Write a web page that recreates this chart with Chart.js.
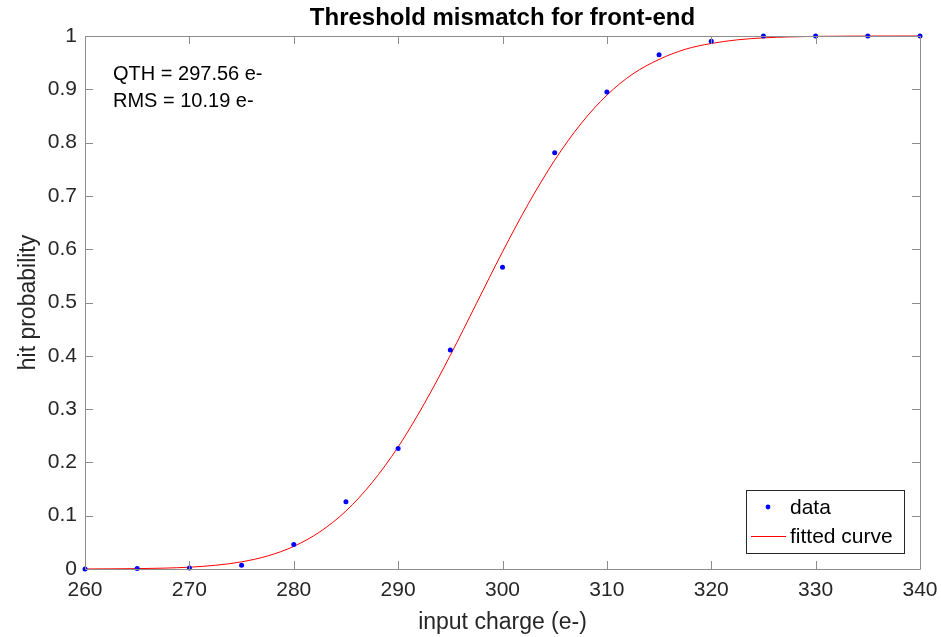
<!DOCTYPE html>
<html lang="en">
<head>
  <meta charset="UTF-8">
  <title>Threshold mismatch for front-end</title>
  <script src="https://cdn.jsdelivr.net/npm/chart.js"></script>
  <style>
    html, body { margin: 0; padding: 0; background: #fff; }
    #wrap { width: 941px; height: 637px; }
  </style>
</head>
<body>
  <div id="wrap"><canvas id="fitChart" width="941" height="637"></canvas></div>

  <script>
    // measured hit probability
    const charges = [260, 265, 270, 275, 280, 285, 290, 295, 300, 305, 310, 315, 320, 325, 330, 335, 340];
    const hitProb = [0, 0.001, 0.002, 0.007, 0.046, 0.126, 0.226, 0.411, 0.566, 0.781, 0.895, 0.965, 0.99, 1, 1, 1, 1];

    // fitted curve
    const fitX = [260, 262.5, 265, 267.5, 270, 272.5, 275, 277.5, 280, 282.5, 285, 287.5, 290, 292.5, 295, 297.5,
                  300, 302.5, 305, 307.5, 310, 312.5, 315, 317.5, 320, 322.5, 325, 327.5, 330, 332.5, 335, 337.5, 340];
    const fitY = [0.0001, 0.0003, 0.0007, 0.0016, 0.0034, 0.007, 0.0134, 0.0245, 0.0424, 0.0697, 0.1088, 0.162,
                  0.229, 0.31, 0.401, 0.498, 0.595, 0.686, 0.767, 0.835, 0.889, 0.929, 0.956, 0.975, 0.986, 0.9928,
                  0.9965, 0.9983, 0.9993, 0.9997, 0.9999, 1, 1];

    const xTicks = [260, 270, 280, 290, 300, 310, 320, 330, 340];
    const yTicks = [0, 0.1, 0.2, 0.3, 0.4, 0.5, 0.6, 0.7, 0.8, 0.9, 1];

    const titleText = "Threshold mismatch for front-end";
    const xTitle = "input charge (e-)";
    const yTitle = "hit probability";
    const notes = ["QTH = 297.56 e-", "RMS = 10.19 e-"];

    const textColor = "#262626";
    const axisColor = "#8c8c8c";
    const fontFam = "'Liberation Sans', Arial, sans-serif";

    // box, inward ticks, titles, note and legend drawn like matlab does
    const matlabLook = {
      id: "matlabLook",
      afterDraw(chart) {
        const ctx = chart.ctx;
        const a = chart.chartArea;
        const xs = chart.scales.x, ys = chart.scales.y;
        ctx.save();
        ctx.strokeStyle = axisColor;
        ctx.lineWidth = 1;
        ctx.beginPath();
        ctx.rect(Math.round(a.left) + 0.5, Math.round(a.top) + 0.5, Math.round(a.right - a.left), Math.round(a.bottom - a.top));
        const tl = 8;
        xTicks.forEach(v => {
          const px = Math.round(xs.getPixelForValue(v)) + 0.5;
          ctx.moveTo(px, a.bottom); ctx.lineTo(px, a.bottom - tl);
          ctx.moveTo(px, a.top); ctx.lineTo(px, a.top + tl);
        });
        yTicks.forEach(v => {
          const py = Math.round(ys.getPixelForValue(v)) + 0.5;
          ctx.moveTo(a.left, py); ctx.lineTo(a.left + tl, py);
          ctx.moveTo(a.right, py); ctx.lineTo(a.right - tl, py);
        });
        ctx.stroke();

        ctx.fillStyle = "#000";
        ctx.font = "bold 24px " + fontFam;
        ctx.textAlign = "center";
        ctx.textBaseline = "middle";
        ctx.fillText(titleText, (a.left + a.right) / 2, 18);

        ctx.fillStyle = textColor;
        ctx.font = "23px " + fontFam;
        ctx.fillText(xTitle, (a.left + a.right) / 2, 623);
        ctx.save();
        ctx.translate(29, (a.top + a.bottom) / 2);
        ctx.rotate(-Math.PI / 2);
        ctx.fillText(yTitle, 0, 0);
        ctx.restore();

        ctx.fillStyle = "#000";
        ctx.font = "20px " + fontFam;
        ctx.textAlign = "left";
        ctx.fillText(notes[0], 113, 74);
        ctx.fillText(notes[1], 113, 101);

        // legend
        ctx.fillStyle = "#fff";
        ctx.fillRect(746, 490, 158, 63);
        ctx.strokeStyle = "#262626";
        ctx.strokeRect(746.5, 490.5, 158, 63);
        ctx.fillStyle = "#0000ff";
        ctx.beginPath();
        ctx.arc(768, 507, 2.4, 0, Math.PI * 2);
        ctx.fill();
        ctx.strokeStyle = "#ff0000";
        ctx.beginPath();
        ctx.moveTo(751, 536.5); ctx.lineTo(786, 536.5);
        ctx.stroke();
        ctx.fillStyle = "#000";
        ctx.font = "21px " + fontFam;
        ctx.fillText("data", 790, 508);
        ctx.fillText("fitted curve", 790, 537);
        ctx.restore();
      }
    };

    new Chart(document.getElementById("fitChart"), {
      type: "scatter",
      data: {
        datasets: [
          {
            label: "fitted curve",
            data: fitX.map((x, i) => ({ x: x, y: fitY[i] })),
            showLine: true,
            borderColor: "#ff0000",
            borderWidth: 1,
            pointRadius: 0,
            cubicInterpolationMode: "monotone",
            order: 2
          },
          {
            label: "data",
            data: charges.map((x, i) => ({ x: x, y: hitProb[i] })),
            showLine: false,
            backgroundColor: "#0000ff",
            borderWidth: 0,
            pointRadius: 2.5,
            order: 1
          }
        ]
      },
      options: {
        responsive: false,
        animation: false,
        clip: false,
        layout: { padding: { left: 0, right: 21, top: 36, bottom: 0 } },
        plugins: { legend: { display: false }, tooltip: { enabled: false } },
        scales: {
          x: {
            type: "linear",
            min: 260, max: 340,
            afterFit: s => { s.height = 68; s.paddingLeft = 0; s.paddingRight = 0; },
            afterBuildTicks: s => { s.ticks = xTicks.map(v => ({ value: v })); },
            grid: { display: false, drawTicks: false },
            border: { display: false },
            ticks: { color: textColor, font: { size: 21, family: fontFam }, padding: 9, maxRotation: 0 }
          },
          y: {
            type: "linear",
            min: 0, max: 1,
            afterFit: s => { s.width = 85; s.paddingTop = 0; s.paddingBottom = 0; },
            afterBuildTicks: s => { s.ticks = yTicks.map(v => ({ value: v })); },
            grid: { display: false, drawTicks: false },
            border: { display: false },
            ticks: { color: textColor, font: { size: 21, family: fontFam }, padding: 8,
                     callback: v => String(Math.round(v * 10) / 10) }
          }
        }
      },
      plugins: [matlabLook]
    });
  </script>
</body>
</html>
